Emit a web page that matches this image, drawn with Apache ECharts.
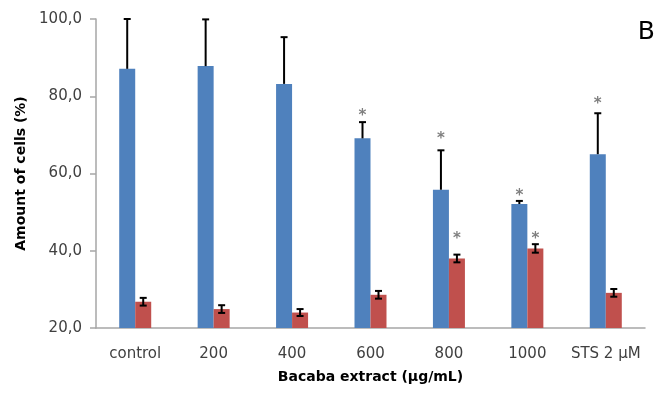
<!DOCTYPE html>
<html>
<head>
<meta charset="utf-8">
<title>Bacaba extract – amount of cells</title>
<script src="https://cdn.jsdelivr.net/npm/echarts@6/dist/echarts.min.js"></script>
<style>
  html, body { margin: 0; padding: 0; background: #ffffff; }
  #chart { width: 657px; height: 396px; }
</style>
</head>
<body>
<div id="chart"></div>
<script>
// Treatment groups along the x axis
const categories = ['control', '200', '400', '600', '800', '1000', 'STS 2 \u00b5M'];

// Blue series: mean and SD (%)
const blueValues = [87.1, 87.8, 83.2, 69.1, 55.8, 52.1, 65.0];
const blueErrors = [12.9, 12.1, 12.1, 4.2, 10.2, 0.8, 10.6];
const blueSignificant = [false, false, false, true, true, true, true];

// Red series: mean and SD (%)
const redValues = [26.8, 24.9, 24.0, 28.6, 38.0, 40.6, 29.1];
const redErrors = [1.0, 1.0, 0.9, 1.0, 1.0, 1.1, 1.0];
const redSignificant = [false, false, false, false, true, true, false];

// Value axis ticks
const yMin = 20, yMax = 100, yStep = 20;

const BLUE = '#4f81bd';
const RED = '#c0504d';
const BAR_W = 16;
const FONT = 'DejaVu Sans';

// Extra lift (px) of each asterisk above its error-bar cap
const blueStarLift = [0, 0, 0, 9, 14, 8, 12];
const redStarLift = [0, 0, 0, 0, 19, 8, 0];

function errorData(values, errors, sig) {
  return values.map((v, i) => [i, v, errors[i], sig[i] ? 1 : 0]);
}

function makeErrorRenderer(offset, plusOnly, lifts) {
  return function (params, api) {
    const cat = api.value(0);
    const val = api.value(1);
    const err = api.value(2);
    const sig = api.value(3);
    const base = api.coord([cat, val]);
    const top = api.coord([cat, val + err]);
    const bot = api.coord([cat, val - err]);
    const x = base[0] + offset;
    const cap = 3.5;
    const lineStyle = { stroke: '#000000', lineWidth: 2 };
    const children = [
      { type: 'line', shape: { x1: x, y1: top[1], x2: x, y2: plusOnly ? base[1] : bot[1] }, style: lineStyle },
      { type: 'line', shape: { x1: x - cap, y1: top[1], x2: x + cap, y2: top[1] }, style: lineStyle }
    ];
    if (!plusOnly) {
      children.push({ type: 'line', shape: { x1: x - cap, y1: bot[1], x2: x + cap, y2: bot[1] }, style: lineStyle });
    }
    if (sig) {
      children.push({
        type: 'text',
        x: x,
        y: top[1] - lifts[params.dataIndex] + 3,
        style: {
          text: '*',
          fill: '#7f7f7f',
          font: 'bold 15px ' + FONT,
          align: 'center',
          verticalAlign: 'middle'
        }
      });
    }
    return { type: 'group', children: children };
  };
}

const chart = echarts.init(document.getElementById('chart'), null, { renderer: 'canvas' });

chart.setOption({
  animation: false,
  backgroundColor: '#ffffff',
  grid: { left: 96, right: 12, top: 19, bottom: 68 },
  graphic: [{
    type: 'text',
    right: 2,
    top: 20,
    style: { text: 'B', font: '25px ' + FONT, fill: '#000000' }
  }],
  xAxis: {
    type: 'category',
    data: categories,
    name: 'Bacaba extract (\u00b5g/mL)',
    nameLocation: 'middle',
    nameGap: 42,
    nameTextStyle: { fontFamily: FONT, fontWeight: 'bold', fontSize: 14, color: '#000000' },
    axisLine: { lineStyle: { color: '#a6a6a6', width: 1.5 } },
    axisTick: { show: false },
    axisLabel: { interval: 0, fontFamily: FONT, fontSize: 15, color: '#404040', margin: 19 },
    splitLine: { show: false }
  },
  yAxis: {
    type: 'value',
    min: yMin,
    max: yMax,
    interval: yStep,
    name: 'Amount of cells (%)',
    nameLocation: 'middle',
    nameGap: 68,
    nameTextStyle: { fontFamily: FONT, fontWeight: 'bold', fontSize: 14, color: '#000000' },
    axisLine: { show: true, lineStyle: { color: '#a6a6a6', width: 1.5 } },
    axisTick: { show: true, length: 6, lineStyle: { color: '#a6a6a6', width: 1.5 } },
    axisLabel: {
      fontFamily: FONT, fontSize: 15, color: '#404040', margin: 14,
      formatter: v => v.toFixed(1).replace('.', ',')
    },
    splitLine: { show: false }
  },
  series: [
    {
      type: 'bar',
      data: blueValues,
      barWidth: BAR_W,
      barGap: '0%',
      itemStyle: { color: BLUE },
      z: 2
    },
    {
      type: 'bar',
      data: redValues,
      barWidth: BAR_W,
      barGap: '0%',
      itemStyle: { color: RED },
      z: 2
    },
    {
      type: 'custom',
      data: errorData(blueValues, blueErrors, blueSignificant),
      encode: { x: 0, y: 1 },
      renderItem: makeErrorRenderer(-BAR_W / 2, true, blueStarLift),
      clip: false,
      z: 3
    },
    {
      type: 'custom',
      data: errorData(redValues, redErrors, redSignificant),
      encode: { x: 0, y: 1 },
      renderItem: makeErrorRenderer(BAR_W / 2, false, redStarLift),
      clip: false,
      z: 3
    }
  ]
});
</script>
</body>
</html>
